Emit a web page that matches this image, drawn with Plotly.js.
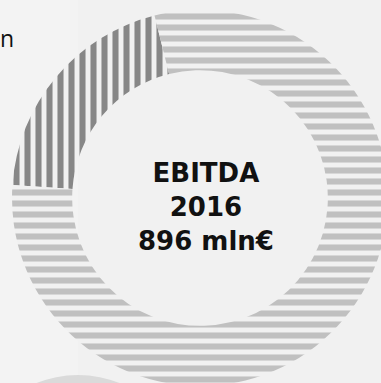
<!DOCTYPE html>
<html>
<head>
<meta charset="utf-8">
<script src="https://cdn.plot.ly/plotly-3.0.1.min.js"></script>
<style>
  html, body { margin: 0; padding: 0; overflow: hidden; background: #f1f1f1; }
  #chart { width: 400px; height: 400px; }
</style>
</head>
<body>
<div id="chart"></div>
<script>
// Data (share of EBITDA 2016, %)
const sliceLabels = ["Segment B", "Segment A"];
const sliceValues = [20, 80];
const slicePatterns = ["|", "-"];
const centerLines = ["EBITDA", "2016", "896 mln€"];
const cutLabel = "n";

const trace = {
  type: "pie",
  labels: sliceLabels,
  values: sliceValues,
  sort: false,
  direction: "clockwise",
  rotation: -86,
  hole: 0.68,
  textinfo: "none",
  hoverinfo: "label+percent",
  domain: { x: [0.03, 0.97], y: [0.035, 0.975] },
  marker: {
    colors: ["#dcdcdc", "rgba(0,0,0,0)"],
    line: { width: 0 },
    pattern: {
      shape: slicePatterns,
      fgcolor: ["#878787", "#c0c0c0"],
      size: 11,
      solidity: 0.55,
      fillmode: "replace"
    }
  }
};

const layout = {
  width: 400,
  height: 400,
  margin: { l: 0, r: 0, t: 0, b: 0, pad: 0 },
  paper_bgcolor: "#f1f1f1",
  plot_bgcolor: "#f1f1f1",
  showlegend: false,
  shapes: [
    { type: "rect", xref: "paper", yref: "paper", x0: 0, x1: 0.195, y0: 0, y1: 1,
      fillcolor: "#f3f3f3", line: { width: 0 }, layer: "below" },
    { type: "circle", xref: "paper", yref: "paper", x0: -0.085, x1: 0.475, y0: -0.4975, y1: 0.0625,
      fillcolor: "#dadada", line: { width: 0 }, layer: "below" }
  ],
  annotations: [
    {
      xref: "paper", yref: "paper", x: 0.515, y: 0.4825,
      xanchor: "center", yanchor: "middle",
      text: centerLines.map(s => "<b>" + s + "</b>").join("<br>"),
      showarrow: false, align: "center",
      font: { family: "DejaVu Sans", size: 26, color: "#111111" }
    },
    {
      xref: "paper", yref: "paper", x: 0.04, y: 0.905,
      xanchor: "right", yanchor: "middle",
      text: cutLabel, showarrow: false,
      font: { family: "Open Sans", size: 23, color: "#111111" }
    }
  ]
};

Plotly.newPlot("chart", [trace], layout, { displayModeBar: false, staticPlot: true });
</script>
</body>
</html>
